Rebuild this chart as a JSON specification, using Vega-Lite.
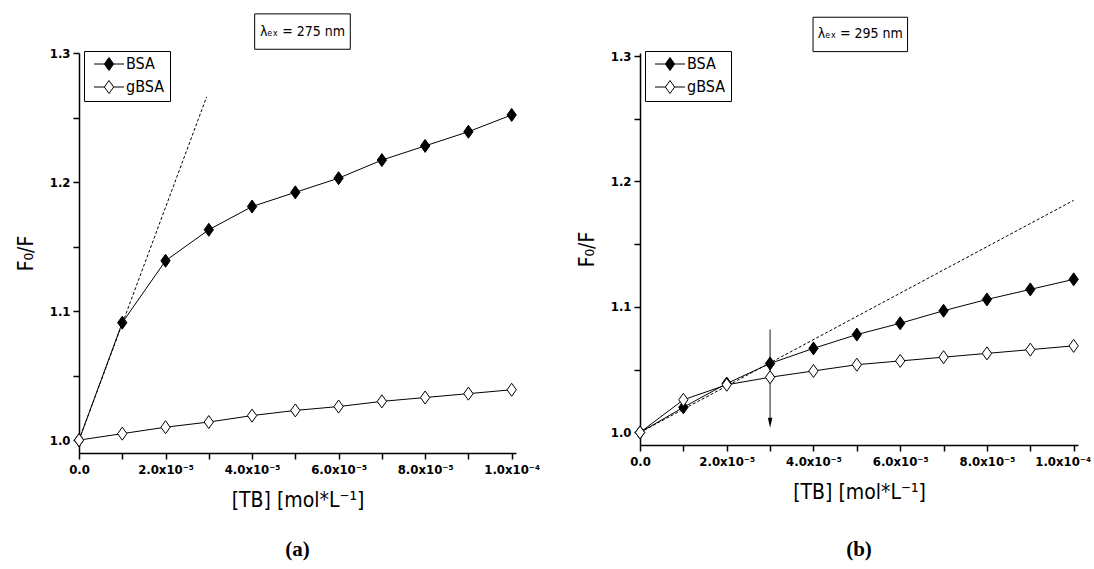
{
  "$schema": "https://vega.github.io/schema/vega-lite/v6.json",
  "background": "white",
  "padding": {"left": 15, "top": 13, "right": 0, "bottom": 5},
  "bounds": "flush",
  "spacing": 124,
  "resolve": {"scale": {"fill": "independent"}, "legend": {"fill": "independent"}},
  "config": {
    "view": {"stroke": null},
    "font": "Liberation Sans Narrow, DejaVu Sans Condensed, Liberation Sans",
    "axis": {
      "domainColor": "black", "domainWidth": 1.5, "tickColor": "black", "tickWidth": 1.5, "tickSize": 6,
      "labelFont": "Liberation Sans Narrow, DejaVu Sans Condensed, Liberation Sans", "labelFontWeight": "bold", "labelFontSize": 13, "labelColor": "black",
      "titleFont": "Liberation Sans Narrow, DejaVu Sans Condensed, Liberation Sans", "titleFontWeight": "normal", "titleFontSize": 21, "titleColor": "black",
      "grid": false, "labelPadding": 4, "labelOverlap": false, "labelFlush": false
    },
    "title": {"font": "Liberation Serif", "fontSize": 21, "fontWeight": "bold", "color": "black", "orient": "bottom"}
  },
  "datasets": {
    "a": [
      {"conc": 0, "ratio": 1.000, "series": "BSA"},
      {"conc": 1e-5, "ratio": 1.091, "series": "BSA"},
      {"conc": 2e-5, "ratio": 1.139, "series": "BSA"},
      {"conc": 3e-5, "ratio": 1.163, "series": "BSA"},
      {"conc": 4e-5, "ratio": 1.181, "series": "BSA"},
      {"conc": 5e-5, "ratio": 1.192, "series": "BSA"},
      {"conc": 6e-5, "ratio": 1.203, "series": "BSA"},
      {"conc": 7e-5, "ratio": 1.217, "series": "BSA"},
      {"conc": 8e-5, "ratio": 1.228, "series": "BSA"},
      {"conc": 9e-5, "ratio": 1.239, "series": "BSA"},
      {"conc": 1e-4, "ratio": 1.252, "series": "BSA"},
      {"conc": 0, "ratio": 1.000, "series": "gBSA"},
      {"conc": 1e-5, "ratio": 1.005, "series": "gBSA"},
      {"conc": 2e-5, "ratio": 1.010, "series": "gBSA"},
      {"conc": 3e-5, "ratio": 1.014, "series": "gBSA"},
      {"conc": 4e-5, "ratio": 1.019, "series": "gBSA"},
      {"conc": 5e-5, "ratio": 1.023, "series": "gBSA"},
      {"conc": 6e-5, "ratio": 1.026, "series": "gBSA"},
      {"conc": 7e-5, "ratio": 1.030, "series": "gBSA"},
      {"conc": 8e-5, "ratio": 1.033, "series": "gBSA"},
      {"conc": 9e-5, "ratio": 1.036, "series": "gBSA"},
      {"conc": 1e-4, "ratio": 1.039, "series": "gBSA"}
    ],
    "b": [
      {"conc": 0, "ratio": 1.000, "series": "BSA"},
      {"conc": 1e-5, "ratio": 1.020, "series": "BSA"},
      {"conc": 2e-5, "ratio": 1.039, "series": "BSA"},
      {"conc": 3e-5, "ratio": 1.055, "series": "BSA"},
      {"conc": 4e-5, "ratio": 1.067, "series": "BSA"},
      {"conc": 5e-5, "ratio": 1.078, "series": "BSA"},
      {"conc": 6e-5, "ratio": 1.087, "series": "BSA"},
      {"conc": 7e-5, "ratio": 1.097, "series": "BSA"},
      {"conc": 8e-5, "ratio": 1.106, "series": "BSA"},
      {"conc": 9e-5, "ratio": 1.114, "series": "BSA"},
      {"conc": 1e-4, "ratio": 1.122, "series": "BSA"},
      {"conc": 0, "ratio": 1.000, "series": "gBSA"},
      {"conc": 1e-5, "ratio": 1.026, "series": "gBSA"},
      {"conc": 2e-5, "ratio": 1.038, "series": "gBSA"},
      {"conc": 3e-5, "ratio": 1.044, "series": "gBSA"},
      {"conc": 4e-5, "ratio": 1.049, "series": "gBSA"},
      {"conc": 5e-5, "ratio": 1.054, "series": "gBSA"},
      {"conc": 6e-5, "ratio": 1.057, "series": "gBSA"},
      {"conc": 7e-5, "ratio": 1.060, "series": "gBSA"},
      {"conc": 8e-5, "ratio": 1.063, "series": "gBSA"},
      {"conc": 9e-5, "ratio": 1.066, "series": "gBSA"},
      {"conc": 1e-4, "ratio": 1.069, "series": "gBSA"}
    ],
    "fitA": [{"conc": 0, "ratio": 1.0}, {"conc": 2.95e-5, "ratio": 1.266}],
    "fitB": [{"conc": 0, "ratio": 1.0}, {"conc": 1e-4, "ratio": 1.185}],
    "arrowB": [{"conc": 3e-5, "top": 1.082, "bottom": 1.009, "head": 1.0077}],
    "boxA": [{"x1": 4.06e-5, "x2": 6.27e-5, "y1": 1.3029, "y2": 1.3303, "xc": 5.165e-5, "yc": 1.3166, "label": "λₑₓ = 275 nm"}],
    "boxB": [{"x1": 3.99e-5, "x2": 6.17e-5, "y1": 1.3035, "y2": 1.3309, "xc": 5.08e-5, "yc": 1.3172, "label": "λₑₓ = 295 nm"}]
  },
  "hconcat": [
    {
      "width": 437, "height": 400,
      "title": {"text": "(a)", "offset": 29},
      "encoding": {
        "x": {"field": "conc", "type": "quantitative", "scale": {"domain": [0, 1.01e-4], "nice": false, "zero": false},
              "axis": {"title": "[TB] [mol*L⁻¹]", "titlePadding": 13,
                       "values": [0, 1e-5, 2e-5, 3e-5, 4e-5, 5e-5, 6e-5, 7e-5, 8e-5, 9e-5, 1e-4],
                       "labelExpr": "round(datum.value*1e5)==0 ? '0.0' : round(datum.value*1e5)==10 ? '1.0x10⁻⁴' : round(datum.value*1e5)%2==0 ? format(round(datum.value*1e5),'.1f')+'x10⁻⁵' : ''"}},
        "y": {"field": "ratio", "type": "quantitative", "scale": {"domain": [0.99, 1.3], "nice": false, "zero": false},
              "axis": {"title": "F₀/F", "titlePadding": 13, "labelPadding": 3,
                       "values": [1.0, 1.05, 1.1, 1.15, 1.2, 1.25, 1.3],
                       "labelExpr": "round(datum.value*100)%10==0 ? format(datum.value,'.1f') : ''"}}
      },
      "layer": [
        {"data": {"name": "a"}, "mark": {"type": "line", "color": "black", "strokeWidth": 1},
         "encoding": {"detail": {"field": "series", "type": "nominal"}}},
        {"data": {"name": "fitA"}, "mark": {"type": "line", "color": "black", "strokeWidth": 1, "strokeDash": [3, 2]},
         "encoding": {}},
        {"data": {"name": "a"},
         "mark": {"type": "point", "shape": "M0,-1.3L0.93,0L0,1.3L-0.93,0Z", "size": 100, "filled": true, "stroke": "black", "strokeWidth": 1, "opacity": 1},
         "encoding": {"fill": {"field": "series", "type": "nominal", "scale": {"domain": ["BSA", "gBSA"], "range": ["black", "white"]},
            "legend": {"orient": "none", "legendX": 5, "legendY": -2, "title": null, "strokeColor": "black", "fillColor": "white",
                       "padding": 5, "rowPadding": 5, "symbolOffset": 12, "labelOffset": 9,
                       "labelFont": "Liberation Sans Narrow, DejaVu Sans Condensed, Liberation Sans", "labelFontSize": 16, "labelColor": "black",
                       "symbolSize": 100, "symbolType": "M-3,0H-0.93M0.93,0H3M0,-1.3L0.93,0L0,1.3L-0.93,0Z",
                       "symbolStrokeColor": "black", "symbolStrokeWidth": 1,
                       "encode": {"symbols": {"update": {"shape": {"value": "M-3,0H-0.93M0.93,0H3M0,-1.3L0.93,0L0,1.3L-0.93,0Z"}, "stroke": {"value": "black"}, "strokeWidth": {"value": 1}, "size": {"value": 100}, "opacity": {"value": 1}}}}}}}},
        {"data": {"name": "boxA"}, "mark": {"type": "rect", "fill": "white", "stroke": "black", "strokeWidth": 1},
         "encoding": {"x": {"field": "x1", "type": "quantitative"}, "x2": {"field": "x2"}, "y": {"field": "y1", "type": "quantitative"}, "y2": {"field": "y2"}}},
        {"data": {"name": "boxA"}, "mark": {"type": "text", "fontSize": 14, "align": "center", "baseline": "middle", "color": "black"},
         "encoding": {"x": {"field": "xc", "type": "quantitative"}, "y": {"field": "yc", "type": "quantitative"}, "text": {"field": "label"}}}
      ]
    },
    {
      "width": 438, "height": 392,
      "title": {"text": "(b)", "offset": 37},
      "encoding": {
        "x": {"field": "conc", "type": "quantitative", "scale": {"domain": [0, 1.01e-4], "nice": false, "zero": false},
              "axis": {"title": "[TB] [mol*L⁻¹]", "titlePadding": 13,
                       "labelOffset": {"condition": {"test": "datum.value > 9.5e-5", "value": -11}, "value": 0},
                       "values": [0, 1e-5, 2e-5, 3e-5, 4e-5, 5e-5, 6e-5, 7e-5, 8e-5, 9e-5, 1e-4],
                       "labelExpr": "round(datum.value*1e5)==0 ? '0.0' : round(datum.value*1e5)==10 ? '1.0x10⁻⁴' : round(datum.value*1e5)%2==0 ? format(round(datum.value*1e5),'.1f')+'x10⁻⁵' : ''"}},
        "y": {"field": "ratio", "type": "quantitative", "scale": {"domain": [0.99, 1.3024], "nice": false, "zero": false},
              "axis": {"title": "F₀/F", "titlePadding": 13, "labelPadding": 3,
                       "values": [1.0, 1.05, 1.1, 1.15, 1.2, 1.25, 1.3],
                       "labelExpr": "round(datum.value*100)%10==0 ? format(datum.value,'.1f') : ''"}}
      },
      "layer": [
        {"data": {"name": "b"}, "mark": {"type": "line", "color": "black", "strokeWidth": 1},
         "encoding": {"detail": {"field": "series", "type": "nominal"}}},
        {"data": {"name": "fitB"}, "mark": {"type": "line", "color": "black", "strokeWidth": 1, "strokeDash": [3, 2]},
         "encoding": {}},
        {"data": {"name": "arrowB"}, "mark": {"type": "rule", "color": "#666666", "strokeWidth": 1.5},
         "encoding": {"y": {"field": "top", "type": "quantitative"}, "y2": {"field": "bottom"}}},
        {"data": {"name": "arrowB"}, "mark": {"type": "point", "shape": "M-0.45,-1L0.45,-1L0,1Z", "size": 100, "filled": true, "color": "black", "opacity": 1},
         "encoding": {"y": {"field": "head", "type": "quantitative"}}},
        {"data": {"name": "b"},
         "mark": {"type": "point", "shape": "M0,-1.3L0.93,0L0,1.3L-0.93,0Z", "size": 100, "filled": true, "stroke": "black", "strokeWidth": 1, "opacity": 1},
         "encoding": {"fill": {"field": "series", "type": "nominal", "scale": {"domain": ["BSA", "gBSA"], "range": ["black", "white"]},
            "legend": {"orient": "none", "legendX": 5, "legendY": -2, "title": null, "strokeColor": "black", "fillColor": "white",
                       "padding": 5, "rowPadding": 5, "symbolOffset": 12, "labelOffset": 9,
                       "labelFont": "Liberation Sans Narrow, DejaVu Sans Condensed, Liberation Sans", "labelFontSize": 16, "labelColor": "black",
                       "symbolSize": 100, "symbolType": "M-3,0H-0.93M0.93,0H3M0,-1.3L0.93,0L0,1.3L-0.93,0Z",
                       "symbolStrokeColor": "black", "symbolStrokeWidth": 1,
                       "encode": {"symbols": {"update": {"shape": {"value": "M-3,0H-0.93M0.93,0H3M0,-1.3L0.93,0L0,1.3L-0.93,0Z"}, "stroke": {"value": "black"}, "strokeWidth": {"value": 1}, "size": {"value": 100}, "opacity": {"value": 1}}}}}}}},
        {"data": {"name": "boxB"}, "mark": {"type": "rect", "fill": "white", "stroke": "black", "strokeWidth": 1},
         "encoding": {"x": {"field": "x1", "type": "quantitative"}, "x2": {"field": "x2"}, "y": {"field": "y1", "type": "quantitative"}, "y2": {"field": "y2"}}},
        {"data": {"name": "boxB"}, "mark": {"type": "text", "fontSize": 14, "align": "center", "baseline": "middle", "color": "black"},
         "encoding": {"x": {"field": "xc", "type": "quantitative"}, "y": {"field": "yc", "type": "quantitative"}, "text": {"field": "label"}}}
      ]
    }
  ]
}
